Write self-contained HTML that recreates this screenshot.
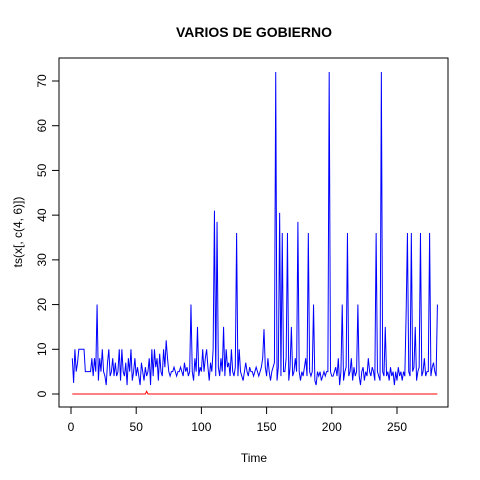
<!DOCTYPE html>
<html><head><meta charset="utf-8"><style>
html,body{margin:0;padding:0;background:#fff}
svg{display:block;font-family:"Liberation Sans",sans-serif}
</style></head><body>
<svg id="chart" width="480" height="480" viewBox="0 0 480 480">
<rect width="480" height="480" fill="#fff"/>
<text x="254" y="37" text-anchor="middle" font-size="14" font-weight="bold">VARIOS DE GOBIERNO</text>
<text x="254" y="462" text-anchor="middle" font-size="12">Time</text>
<text transform="translate(22,232) rotate(-90)" text-anchor="middle" font-size="12">ts(x[, c(4, 6)])</text>
<rect x="59" y="58" width="389" height="349" fill="none" stroke="#000"/>
<g id="axes"></g>
<g id="series"></g>
</svg>
<script>
const xTicks=[0,50,100,150,200,250];
const yTicks=[0,10,20,30,40,50,60,70];
const seriesA=[8,2.5,10,5,7,10,10,10,10,10,5,5,5,5,5,8,4,8,5,20,
3,8,5,10,5,4,2,7,10,4,5,8,4,7,4,5,10,3,10,5,
4,7,2,8,5,10,3,5,8,4,6,4,2,7,5,3,6,4,5,8,
2,10,4,10,6,8,3,9,5,4,10,6,12,8,5,4,5,5,6,5,
4,5,5,6,5,4,7,5,6,4,5,20,5,3,8,5,15,4,6,5,
10,5,8,10,6,3,7,5,10,41,4,38.5,6,4,8,5,15,4,10,6,
7,4,10,5,4,6,36,4,10,5,4,3,5,7,5,4,6,5,5,4,
5,6,5,4,5,6,8,14.5,6,4,8,5,3,5,6,7,72,3,6,40.5,
4,36,5,5,8,36,3,6,15,4,5,8,5,38.5,5,3,5,4,6,8,
4,36,5,4,5,20,3,2,5,4,5,3,4,5,4,5,5,72,5,4,
4,5,6,4,8,2,5,20,3,5,6,36,4,5,8,3,6,4,5,20,
4,2,5,6,3,5,4,8,5,4,6,5,3,36,5,4,3,72,5,4,
15,4,5,3,6,4,5,2,5,3,6,4,5,3,5,4,18,36,5,4,
36,5,6,15,3,5,6,36,4,5,8,4,5,5,36,4,6,7,5,4,20];
const seriesB=seriesA.map((v,i)=>0);
seriesB[57]=0.6;

const NS="http://www.w3.org/2000/svg";
function xs(t){return 71+(t)*326/250;}
function ys(v){return 394-v*313/70;}
const axes=document.getElementById('axes');
function el(tag,attrs,parent){const e=document.createElementNS(NS,tag);for(const k in attrs)e.setAttribute(k,attrs[k]);parent.appendChild(e);return e;}
const xl=el('line',{x1:xs(0),x2:xs(250),y1:407,y2:407,stroke:'#000'},axes);


xTicks.forEach(t=>{
  const l=el('line',{x1:xs(t),x2:xs(t),y1:407,y2:414,stroke:'#000'},axes);
  
  
  const tx=el('text',{x:xs(t),y:431,'text-anchor':'middle','font-size':12},axes);
  tx.textContent=t;
  
  
});
const yl=el('line',{x1:59,x2:59,y1:ys(0),y2:ys(70),stroke:'#000'},axes);


yTicks.forEach(v=>{
  const l=el('line',{x1:52,x2:59,y1:ys(v),y2:ys(v),stroke:'#000'},axes);
  
  
  const tx=el('text',{transform:`translate(46,${ys(v)}) rotate(-90)`,'text-anchor':'middle','font-size':12},axes);
  tx.textContent=v;
  
  
});
const g=document.getElementById('series');
function line(data,color,name){
  const d=data.map((v,i)=>(i?'L':'M')+xs(i+1).toFixed(2)+','+ys(v).toFixed(2)).join('');
  const p=el('path',{d:d,fill:'none',stroke:color,'stroke-width':1},g);
  
  
}
line(seriesB,'#ff0000','series-red-line');
line(seriesA,'#0000ff','series-blue-line');
</script>
</body></html>
